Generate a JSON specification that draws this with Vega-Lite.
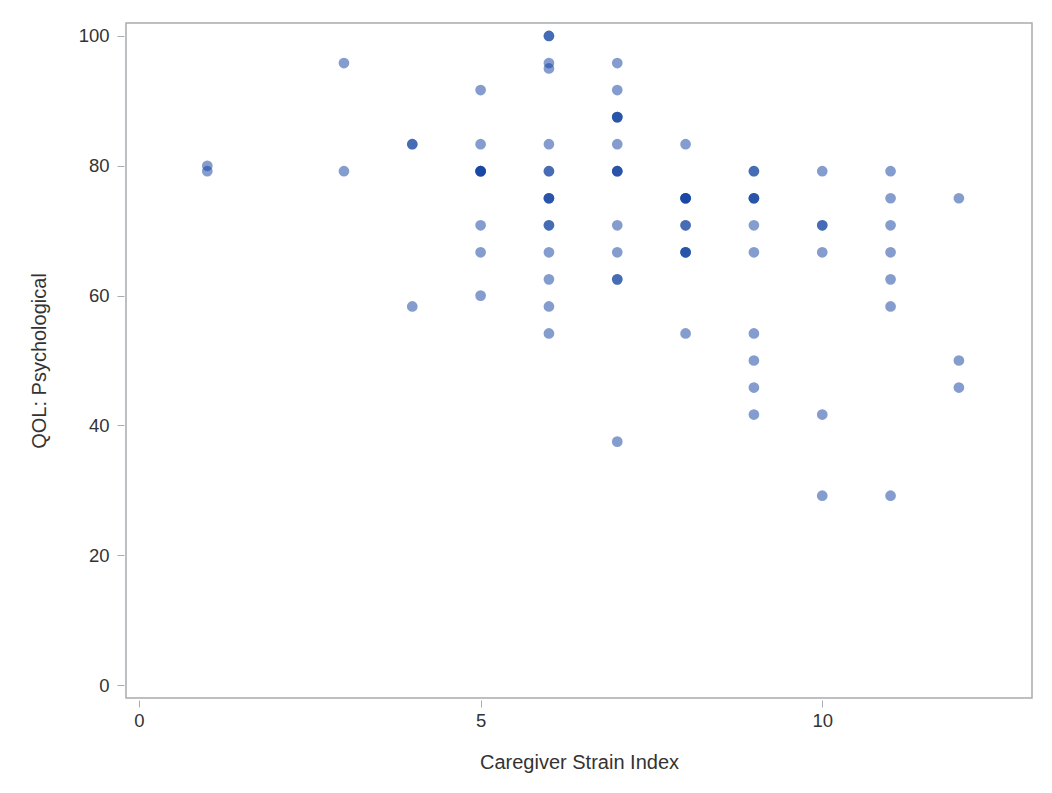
{
  "$schema": "https://vega.github.io/schema/vega-lite/v6.json",
  "width": 906,
  "height": 675,
  "autosize": {"type": "none"},
  "padding": {"left": 126, "top": 23, "right": 20, "bottom": 95},
  "background": "white",
  "config": {
    "view": {"stroke": "#a8acb0", "strokeWidth": 1.5},
    "font": "Liberation Sans"
  },
  "data": {
    "values": [
      {"csi": 1, "qol": 80}, {"csi": 1, "qol": 79.17},
      {"csi": 3, "qol": 95.83}, {"csi": 3, "qol": 79.17},
      {"csi": 4, "qol": 83.33}, {"csi": 4, "qol": 83.33}, {"csi": 4, "qol": 58.33},
      {"csi": 5, "qol": 91.67}, {"csi": 5, "qol": 83.33},
      {"csi": 5, "qol": 79.17}, {"csi": 5, "qol": 79.17}, {"csi": 5, "qol": 79.17}, {"csi": 5, "qol": 79.17},
      {"csi": 5, "qol": 70.83}, {"csi": 5, "qol": 66.67}, {"csi": 5, "qol": 60},
      {"csi": 6, "qol": 100}, {"csi": 6, "qol": 100}, {"csi": 6, "qol": 95.83}, {"csi": 6, "qol": 95},
      {"csi": 6, "qol": 83.33}, {"csi": 6, "qol": 79.17}, {"csi": 6, "qol": 79.17},
      {"csi": 6, "qol": 75}, {"csi": 6, "qol": 75}, {"csi": 6, "qol": 75},
      {"csi": 6, "qol": 70.83}, {"csi": 6, "qol": 70.83},
      {"csi": 6, "qol": 66.67}, {"csi": 6, "qol": 62.5}, {"csi": 6, "qol": 58.33}, {"csi": 6, "qol": 54.17},
      {"csi": 7, "qol": 95.83}, {"csi": 7, "qol": 91.67},
      {"csi": 7, "qol": 87.5}, {"csi": 7, "qol": 87.5}, {"csi": 7, "qol": 87.5},
      {"csi": 7, "qol": 83.33},
      {"csi": 7, "qol": 79.17}, {"csi": 7, "qol": 79.17}, {"csi": 7, "qol": 79.17},
      {"csi": 7, "qol": 70.83}, {"csi": 7, "qol": 66.67},
      {"csi": 7, "qol": 62.5}, {"csi": 7, "qol": 62.5}, {"csi": 7, "qol": 37.5},
      {"csi": 8, "qol": 83.33},
      {"csi": 8, "qol": 75}, {"csi": 8, "qol": 75}, {"csi": 8, "qol": 75}, {"csi": 8, "qol": 75},
      {"csi": 8, "qol": 70.83}, {"csi": 8, "qol": 70.83},
      {"csi": 8, "qol": 66.67}, {"csi": 8, "qol": 66.67}, {"csi": 8, "qol": 66.67},
      {"csi": 8, "qol": 54.17},
      {"csi": 9, "qol": 79.17}, {"csi": 9, "qol": 79.17},
      {"csi": 9, "qol": 75}, {"csi": 9, "qol": 75}, {"csi": 9, "qol": 75},
      {"csi": 9, "qol": 70.83}, {"csi": 9, "qol": 66.67}, {"csi": 9, "qol": 54.17},
      {"csi": 9, "qol": 50}, {"csi": 9, "qol": 45.83}, {"csi": 9, "qol": 41.67},
      {"csi": 10, "qol": 79.17}, {"csi": 10, "qol": 70.83}, {"csi": 10, "qol": 70.83},
      {"csi": 10, "qol": 66.67}, {"csi": 10, "qol": 41.67}, {"csi": 10, "qol": 29.17},
      {"csi": 11, "qol": 79.17}, {"csi": 11, "qol": 75}, {"csi": 11, "qol": 70.83},
      {"csi": 11, "qol": 66.67}, {"csi": 11, "qol": 62.5}, {"csi": 11, "qol": 58.33}, {"csi": 11, "qol": 29.17},
      {"csi": 12, "qol": 75}, {"csi": 12, "qol": 50}, {"csi": 12, "qol": 45.83}
    ]
  },
  "mark": {"type": "circle", "size": 115, "color": "#0a3b9e", "opacity": 0.5},
  "encoding": {
    "x": {
      "field": "csi", "type": "quantitative",
      "scale": {"domain": [-0.19, 13.07], "nice": false, "zero": false},
      "axis": {
        "title": "Caregiver Strain Index", "values": [0, 5, 10], "grid": false, "domain": false,
        "offset": 2, "tickSize": 7, "tickColor": "#a8acb0", "labelPadding": 4,
        "labelFontSize": 18.5, "labelColor": "#333333", "titleFontSize": 20, "titleFontWeight": "normal",
        "titleColor": "#333333", "titlePadding": 23
      }
    },
    "y": {
      "field": "qol", "type": "quantitative",
      "scale": {"domain": [-2, 102], "nice": false, "zero": false},
      "axis": {
        "title": "QOL: Psychological", "values": [0, 20, 40, 60, 80, 100], "grid": false, "domain": false,
        "offset": 2, "tickSize": 7, "tickColor": "#a8acb0", "labelPadding": 8,
        "labelFontSize": 18.5, "labelColor": "#333333", "titleFontSize": 20, "titleFontWeight": "normal",
        "titleColor": "#333333", "titlePadding": 29
      }
    }
  }
}
